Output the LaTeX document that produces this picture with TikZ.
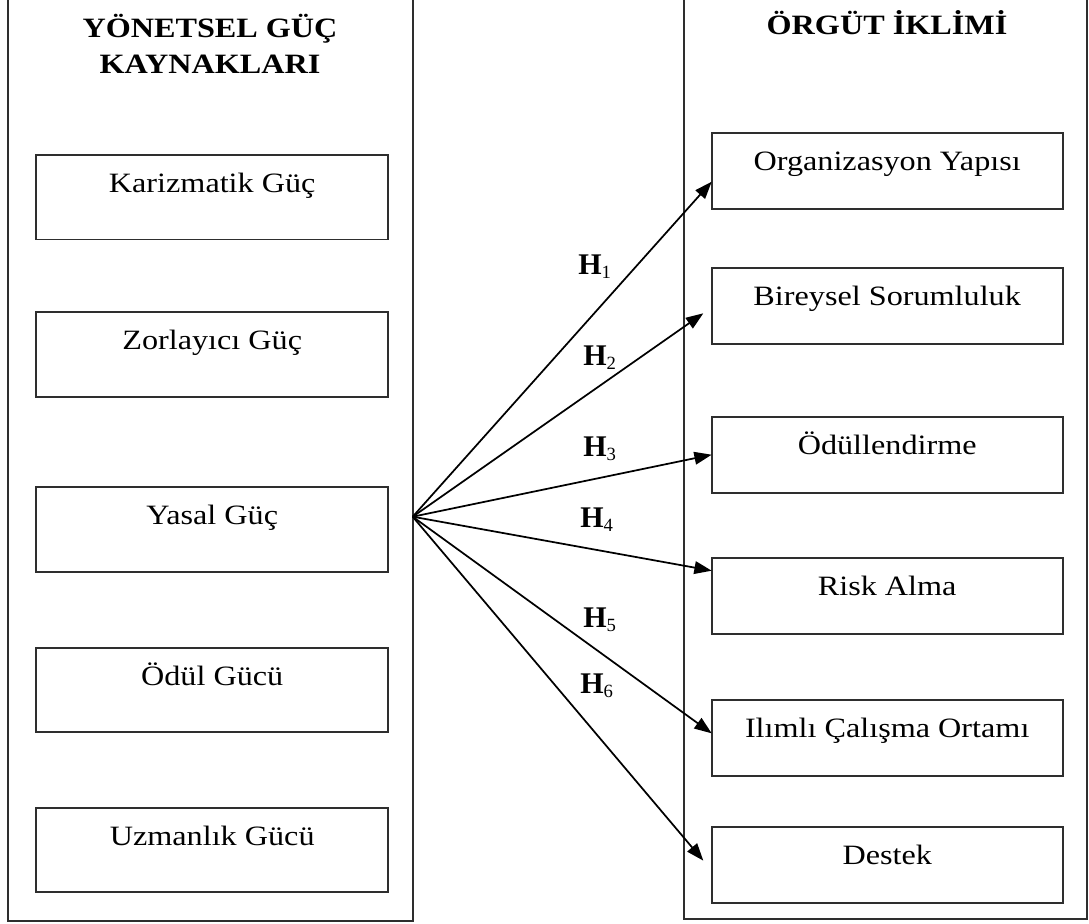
\documentclass[tikz,border=0pt]{standalone}
\usepackage{fontspec}
\setmainfont{Liberation Serif}[FakeStretch=1.15]
\newfontfamily\hfont{Liberation Serif}
\usetikzlibrary{arrows.meta}
\definecolor{linecol}{gray}{0.18}
\newcommand{\Hsub}[1]{{\hfont\bfseries\fontsize{22.5}{24}\selectfont H}\raisebox{-3.6pt}{\hfont\fontsize{14}{15}\selectfont #1}}
\tikzset{
  outerline/.style={draw=linecol, line width=1.4pt},
  lbox/.style={draw=linecol, line width=1.4pt, rectangle, inner sep=0pt, outer sep=0pt,
    minimum width=264.2pt, text height=28.1pt, text depth=35.25pt, anchor=north,
    font=\fontsize{21}{25}\selectfont},
  rbox/.style={draw=linecol, line width=1.4pt, rectangle, inner sep=0pt, outer sep=0pt,
    minimum width=263.25pt, text height=28.1pt, text depth=28.9pt, anchor=north,
    font=\fontsize{21}{25}\selectfont},
  head/.style={anchor=base, inner sep=0pt, font=\fontsize{21}{25}\selectfont\bfseries},
  hlab/.style={anchor=base west, inner sep=0pt, fill=white},
  arr/.style={draw=black, line width=1.3pt, -{Triangle[length=13pt,width=9.5pt]}}
}
\begin{document}
\begin{tikzpicture}[x=0.75pt, y=-0.75pt]
\useasboundingbox (0,0) rectangle (1089,924);
\fill[white] (0,0) rectangle (1089,924);
% outer frames (open at the top)
\draw[outerline] (8.3,0) -- (8.3,920.7) -- (412.7,920.7) -- (412.7,0);
\draw[outerline] (684.3,0) -- (684.3,919.3) -- (1086.7,919.3) -- (1086.7,0);
% headers
\node[head] (hl1) at (210,38) {YÖNETSEL GÜÇ};
\node[head] (hl2) at (210,74) {KAYNAKLARI};
\node[head] (hr) at (887,35) {ÖRGÜT İKLİMİ};
% left boxes
\node[lbox] (kar) at (212.2,155) {Karizmatik Güç};
\node[lbox] (zor) at (212.2,312.3) {Zorlayıcı Güç};
\node[lbox] (yas) at (212.2,487.3) {Yasal Güç};
\node[lbox] (odu) at (212.2,647.7) {Ödül Gücü};
\node[lbox] (uzm) at (212.2,807.7) {Uzmanlık Gücü};
% right boxes
\node[rbox] (org) at (887.2,133.3) {Organizasyon Yapısı};
\node[rbox] (bir) at (887.2,267.7) {Bireysel Sorumluluk};
\node[rbox] (odl) at (887.2,416.7) {Ödüllendirme};
\node[rbox] (rsk) at (887.2,557.7) {Risk Alma};
\node[rbox] (ilm) at (887.2,700) {Ilımlı Çalışma Ortamı};
\node[rbox] (dst) at (887.2,827.3) {Destek};
% source of the fan
\coordinate (src) at (412.7,516.7);
% arrows
\draw[arr] (src) -- ([yshift=-7.8pt]org.west);
\draw[arr] (src) -- ([xshift=-6.3pt,yshift=-5.7pt]bir.west);
\draw[arr] (src) -- (odl.west);
\draw[arr] (src) -- ([yshift=18.75pt]rsk.west);
\draw[arr] (src) -- ([yshift=3.5pt]ilm.west);
\draw[arr] (src) -- ([xshift=-6.3pt,yshift=3.5pt]dst.west);
% hypothesis labels
\node[hlab] (h1) at (578,274) {\Hsub{1}};
\node[hlab] (h2) at (583,365) {\Hsub{2}};
\node[hlab] (h3) at (583,456) {\Hsub{3}};
\node[hlab] (h4) at (580,527) {\Hsub{4}};
\node[hlab] (h5) at (583,627) {\Hsub{5}};
\node[hlab] (h6) at (580,693) {\Hsub{6}};
\end{tikzpicture}
\end{document}
